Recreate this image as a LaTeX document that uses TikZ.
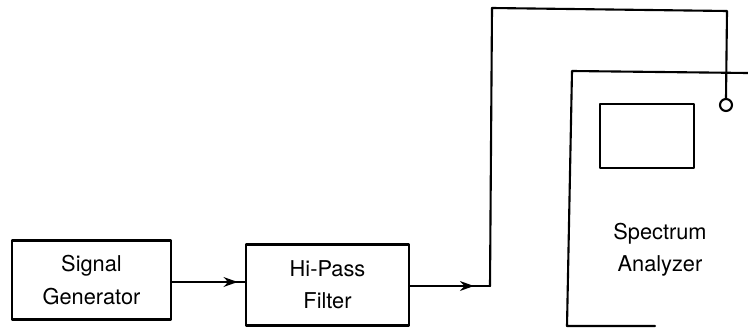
\documentclass[tikz,border=0pt]{standalone}
\usepackage{fontspec}
\setmainfont{TeX Gyre Heros}
\usetikzlibrary{arrows.meta, decorations.markings}

\begin{document}
\begin{tikzpicture}[x=0.025cm,y=-0.025cm,line cap=round,line join=round,
        block/.style={draw,line width=1.5pt,align=center,inner sep=0pt,
                      font=\fontsize{15.5}{23}\selectfont},
        wire/.style={line width=1.5pt},
        tipat/.style={decoration={markings,
                      mark=at position #1 with {\arrow{Stealth[length=10pt,width=7pt]}}},
                      postaction={decorate}}]
    \useasboundingbox (0,0) rectangle (748,328);

    % the two boxes on the left
    \node[block,minimum width=3.975cm,minimum height=1.975cm] (gen) at (91.5,280)
        {Signal\\Generator};
    \node[block,minimum width=4.075cm,minimum height=2.025cm] (filt) at (327.5,285)
        {Hi-Pass\\Filter};

    % the spectrum analyzer, cut off at the right
    \coordinate (satr) at (748,73);
    \coordinate (satl) at (572,71);
    \coordinate (sabl) at (567,326);
    \coordinate (sabr) at (655,326);
    \draw[wire] (satr) -- (satl) -- (sabl) -- (sabr);
    \node[block,minimum width=2.35cm,minimum height=1.6cm] (screen) at (647,136) {};
    \node[font=\fontsize{15.5}{23}\selectfont,align=center] (salabel) at (660,250)
        {Spectrum\\Analyzer};
    \node[draw,circle,line width=1.5pt,inner sep=0pt,minimum size=0.3cm,fill=white]
        (port) at (726,105) {};

    % connections
    \coordinate (bend1) at (490,286);
    \coordinate (bend2) at (492,8);
    \coordinate (bend3) at (727,11);
    \draw[wire,tipat=0.9] (gen.east |- 0,282) -- (filt.west |- 0,282);
    \draw[wire,tipat=0.8] (filt.east |- bend1) -- (bend1);
    \draw[wire] (bend1) -- (bend2) -- (bend3) -- (port.north);
\end{tikzpicture}
\end{document}
